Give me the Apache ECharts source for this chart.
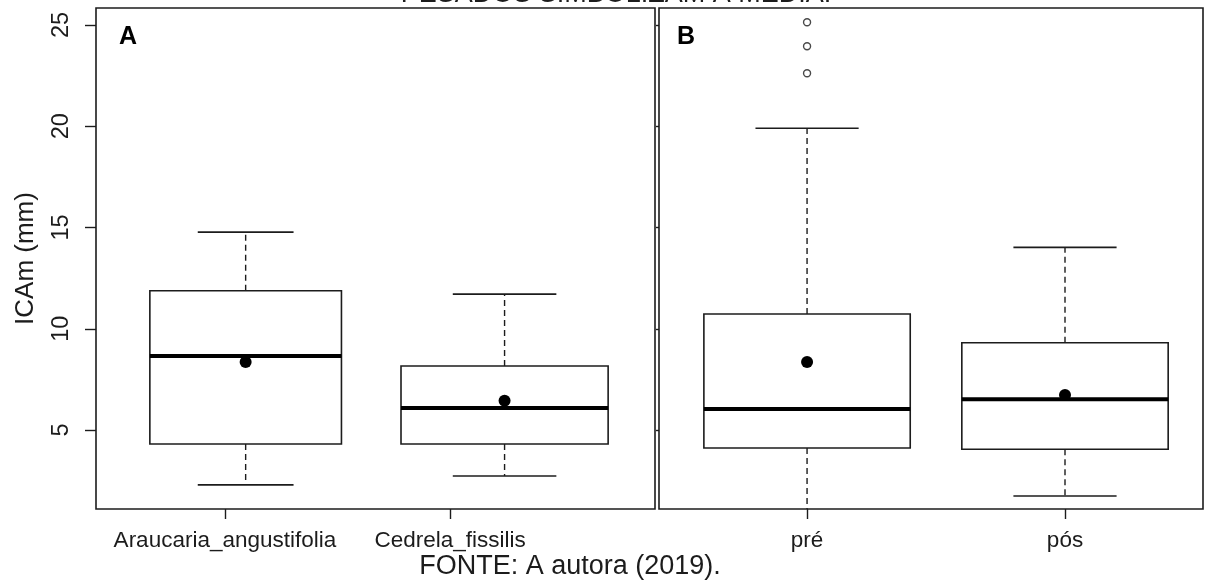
<!DOCTYPE html>
<html>
<head>
<meta charset="utf-8">
<script src="https://cdn.jsdelivr.net/npm/echarts@6/dist/echarts.min.js"></script>
<style>
  html, body { margin: 0; padding: 0; background: #ffffff; }
  #chart { width: 1214px; height: 585px; }
</style>
</head>
<body>
<div id="chart"></div>
<script>
// ---- data: annual mean diameter increment (ICAm, mm) ----
const groupsA = ['Araucaria_angustifolia', 'Cedrela_fissilis'];
const lowA    = [2.29, 2.73];
const q1A     = [4.31, 4.31];
const medA    = [8.65, 6.09];
const q3A     = [11.88, 8.16];
const highA   = [14.77, 11.71];
const meanA   = [8.36, 6.45];

const groupsB = ['pré', 'pós'];
const lowB    = [1.0, 1.74];
const q1B     = [4.11, 4.05];
const medB    = [6.04, 6.52];
const q3B     = [10.73, 9.31];
const highB   = [19.9, 14.02];
const meanB   = [8.36, 6.73];
const outliersPre = [22.62, 23.95, 25.14];

const yTicks = [5, 10, 15, 20, 25];

// ---- layout / style ----
const BOX_WIDTH_A = [0.74, 0.80];
const BOX_WIDTH_B = [0.80, 0.80];
// where the category ticks and names sit on each x axis
const TICK_POS_A = [0.92, 1.79];
const TICK_POS_B = [1, 2];
const INK = '#1c1c1c';
const FONT = 'Liberation Sans, Arial, sans-serif';

function rows(low, q1, med, q3, high, mean) {
  return low.map((_, i) => [i + 1, low[i], q1[i], med[i], q3[i], high[i], mean[i]]);
}

function makeRenderer(widths) {
  return function (params, api) {
    const cs = params.coordSys;
    const top = cs.y, bottom = cs.y + cs.height;
    const x = api.value(0);
    const w = api.size([widths[params.dataIndex], 0])[0];
    const Y = v => api.coord([x, v])[1];
    const cx = api.coord([x, 0])[0];
    const yLow = Y(api.value(1)), yQ1 = Y(api.value(2)), yMed = Y(api.value(3));
    const yQ3 = Y(api.value(4)), yHigh = Y(api.value(5)), yMean = Y(api.value(6));
    const clampY = y => Math.max(top, Math.min(bottom, y));
    const dashStyle = { stroke: INK, lineWidth: 1.4, lineDash: [6, 4] };
    const solid = { stroke: INK, lineWidth: 1.6 };
    const children = [
      { type: 'line', shape: { x1: cx, y1: yQ1, x2: cx, y2: clampY(yLow) }, style: dashStyle },
      { type: 'line', shape: { x1: cx, y1: yQ3, x2: cx, y2: clampY(yHigh) }, style: dashStyle }
    ];
    if (yLow <= bottom) {
      children.push({ type: 'line', shape: { x1: cx - w / 4, y1: yLow, x2: cx + w / 4, y2: yLow }, style: solid });
    }
    if (yHigh >= top) {
      children.push({ type: 'line', shape: { x1: cx - w / 4, y1: yHigh, x2: cx + w / 4, y2: yHigh }, style: solid });
    }
    children.push(
      { type: 'rect', shape: { x: cx - w / 2, y: yQ3, width: w, height: yQ1 - yQ3 },
        style: { fill: '#ffffff', stroke: INK, lineWidth: 1.6 } },
      { type: 'line', shape: { x1: cx - w / 2, y1: yMed, x2: cx + w / 2, y2: yMed },
        style: { stroke: '#000000', lineWidth: 4 } },
      { type: 'circle', shape: { cx: cx, cy: yMean, r: 6 }, style: { fill: '#000000' } }
    );
    return { type: 'group', children: children };
  };
}

function yAxisFor(gridIndex, withLabels) {
  return {
    type: 'value', gridIndex: gridIndex, min: 1.1, max: 25.84,
    name: withLabels ? 'ICAm (mm)' : '',
    nameLocation: 'middle', nameRotate: 90, nameGap: 57,
    nameTextStyle: { fontFamily: FONT, fontSize: 26, color: INK },
    axisLine: { show: false },
    splitLine: { show: false },
    axisTick: { show: true, length: withLabels ? 11 : 3, customValues: yTicks,
                lineStyle: { color: INK, width: 1.4 } },
    axisLabel: { show: withLabels, customValues: yTicks, rotate: 90, margin: 22,
                 fontFamily: FONT, fontSize: 23.5, color: INK }
  };
}

function xAxisFor(gridIndex, groups, ticks, min, max) {
  return {
    type: 'value', gridIndex: gridIndex, min: min, max: max,
    axisLine: { show: false },
    splitLine: { show: false },
    axisTick: { show: true, length: 10, customValues: ticks,
                lineStyle: { color: INK, width: 1.4 } },
    axisLabel: { customValues: ticks, margin: 20,
                 fontFamily: FONT, fontSize: 22.5, color: INK,
                 formatter: v => {
                   const i = ticks.findIndex(t => Math.abs(t - v) < 1e-6);
                   return i >= 0 ? groups[i] : '';
                 } }
  };
}

const chart = echarts.init(document.getElementById('chart'), null, { renderer: 'canvas' });
chart.setOption({
  animation: false,
  backgroundColor: '#ffffff',
  grid: [
    { left: 96, top: 8, width: 559, height: 501, show: true, borderColor: INK, borderWidth: 1.6, backgroundColor: 'transparent' },
    { left: 659, top: 8, width: 544, height: 501, show: true, borderColor: INK, borderWidth: 1.6, backgroundColor: 'transparent' }
  ],
  xAxis: [
    xAxisFor(0, groupsA, TICK_POS_A, 0.422, 2.581),
    xAxisFor(1, groupsB, TICK_POS_B, 0.426, 2.535)
  ],
  yAxis: [yAxisFor(0, true), yAxisFor(1, false)],
  graphic: [
    { type: 'text', x: 616, y: -5,
      style: { text: 'PESADOS SIMBOLIZAM A MÉDIA.', font: '27px ' + FONT, fill: INK,
               textAlign: 'center', textVerticalAlign: 'middle' } },
    { type: 'text', x: 128, y: 37,
      style: { text: 'A', font: 'bold 25px ' + FONT, fill: '#000', textAlign: 'center', textVerticalAlign: 'middle' } },
    { type: 'text', x: 686, y: 37,
      style: { text: 'B', font: 'bold 25px ' + FONT, fill: '#000', textAlign: 'center', textVerticalAlign: 'middle' } },
    { type: 'text', x: 570, y: 567,
      style: { text: 'FONTE: A autora (2019).', font: '27px ' + FONT, fill: INK,
               textAlign: 'center', textVerticalAlign: 'middle' } }
  ],
  series: [
    { type: 'custom', xAxisIndex: 0, yAxisIndex: 0, renderItem: makeRenderer(BOX_WIDTH_A),
      data: rows(lowA, q1A, medA, q3A, highA, meanA) },
    { type: 'custom', xAxisIndex: 1, yAxisIndex: 1, renderItem: makeRenderer(BOX_WIDTH_B),
      data: rows(lowB, q1B, medB, q3B, highB, meanB) },
    { type: 'scatter', xAxisIndex: 1, yAxisIndex: 1, symbol: 'circle', symbolSize: 7,
      itemStyle: { color: '#ffffff', borderColor: INK, borderWidth: 1.4 },
      data: outliersPre.map(v => [1, v]) }
  ]
});
</script>
</body>
</html>
